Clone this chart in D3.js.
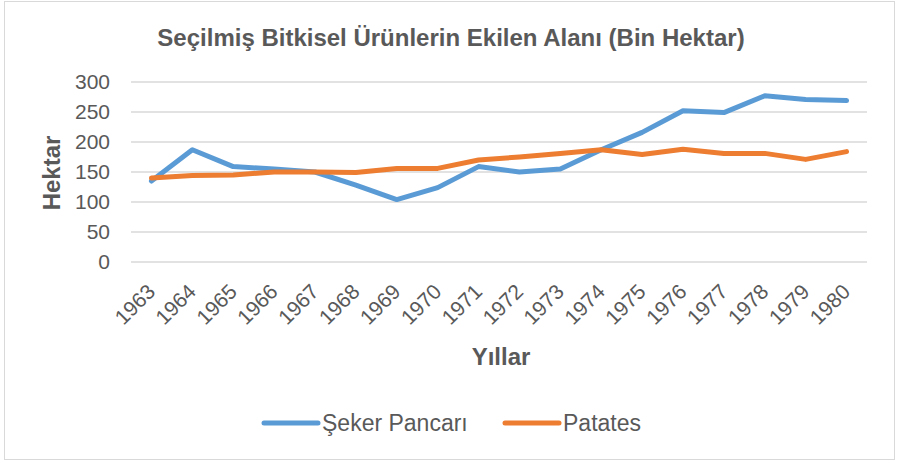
<!DOCTYPE html>
<html><head><meta charset="utf-8">
<script src="https://cdn.jsdelivr.net/npm/d3@7"></script>
<style>body{margin:0;background:#fff}svg{display:block}</style>
</head><body>
<svg id="c" width="897" height="462"></svg>
<script>
const years = ["1963","1964","1965","1966","1967","1968","1969","1970","1971","1972","1973","1974","1975","1976","1977","1978","1979","1980"];
const seker = [135,187,159,155,150,128,104,124,159,150,155,187,216,252,249,277,271,269];
const patates = [140,144,145,150,150,149,156,156,170,175,181,187,179,188,181,181,171,184];
const yTicks = [0,50,100,150,200,250,300];
const seriesNames = ["Şeker Pancarı","Patates"];
const colors = ["#5b9bd5","#ed7d31"];

const svg = d3.select("#c");
const font = "'Liberation Sans', Arial, sans-serif";
svg.append("rect").attr("x",4.5).attr("y",1.5).attr("width",890).attr("height",458)
  .attr("fill","#fff").attr("stroke","#d9d9d9").attr("stroke-width",1);

const L=131, R=867, T=82, B=262;
const x = d3.scaleBand().domain(years).range([L,R]);
const y = d3.scaleLinear().domain([0,300]).range([B,T]);

svg.append("g").selectAll("line").data(yTicks).join("line")
  .attr("x1",L).attr("x2",R).attr("y1",d=>y(d)).attr("y2",d=>y(d))
  .attr("stroke","#d9d9d9").attr("stroke-width",1.3);

const yAxis = svg.append("g").attr("transform",`translate(${L},0)`)
  .call(d3.axisLeft(y).tickValues(yTicks).tickSize(0).tickPadding(21));
yAxis.select(".domain").remove();
yAxis.selectAll("text").attr("font-family",font).attr("font-size",21).attr("fill","#595959");

const xAxis = svg.append("g").attr("transform",`translate(0,${B})`)
  .call(d3.axisBottom(x).tickSize(0));
xAxis.select(".domain").remove();
xAxis.selectAll("text").attr("font-family",font).attr("font-size",21).attr("fill","#595959")
  .attr("text-anchor","end").attr("dy",0).attr("y",0)
  .attr("transform","translate(5,31) rotate(-45)");

const line = d3.line().x((d,i)=>x(years[i])+x.bandwidth()/2).y(d=>y(d));
[seker,patates].forEach((s,i)=>{
  svg.append("path").datum(s).attr("d",line).attr("fill","none")
    .attr("stroke",colors[i]).attr("stroke-width",5).attr("stroke-linejoin","round").attr("stroke-linecap","round");
});

svg.append("text").attr("x",451).attr("y",46).attr("text-anchor","middle")
  .attr("font-family",font).attr("font-weight","bold").attr("font-size",24).attr("fill","#595959")
  .text("Seçilmiş Bitkisel Ürünlerin Ekilen Alanı (Bin Hektar)");
svg.append("text").attr("transform","translate(60,173) rotate(-90)").attr("text-anchor","middle")
  .attr("font-family",font).attr("font-weight","bold").attr("font-size",24).attr("fill","#595959")
  .text("Hektar");
svg.append("text").attr("x",501).attr("y",365).attr("text-anchor","middle")
  .attr("font-family",font).attr("font-weight","bold").attr("font-size",24).attr("fill","#595959")
  .text("Yıllar");

const legX=[264,505];
seriesNames.forEach((n,i)=>{
  svg.append("line").attr("x1",legX[i]).attr("x2",legX[i]+54).attr("y1",423).attr("y2",423)
    .attr("stroke",colors[i]).attr("stroke-width",5).attr("stroke-linecap","round");
  svg.append("text").attr("x",legX[i]+58).attr("y",431).attr("font-family",font).attr("font-size",23)
    .attr("fill","#595959").text(n);
});
</script>
</body></html>
